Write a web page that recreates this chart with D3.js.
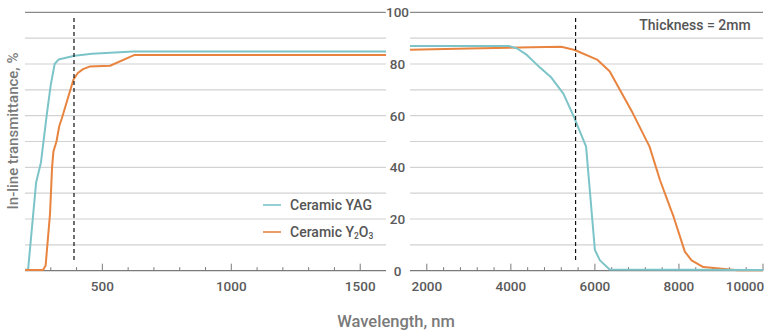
<!DOCTYPE html>
<html>
<head>
<meta charset="utf-8">
<script src="https://cdn.jsdelivr.net/npm/d3@7"></script>
<style>
  html, body { margin: 0; padding: 0; background: #fff; }
  svg { display: block; font-family: Roboto, "Liberation Sans", sans-serif; }
</style>
</head>
<body>
<svg id="chart" width="771" height="333"></svg>
<script>
// In-line transmittance of 2 mm ceramic windows, UV/VIS (left) and IR (right)
const yagLeftWl  = [200, 212, 243, 262, 284, 300, 315, 330, 392, 460, 620, 1600];
const yagLeftT   = [0.4, 0.4, 34, 42, 60, 72, 80, 81.7, 83.2, 84, 84.8, 84.8];
const y2o3LeftWl = [200, 270, 280, 297, 305, 310, 322, 333, 343, 388, 405, 425, 450, 530, 625, 1600];
const y2o3LeftT  = [0.3, 0.3, 2, 22, 40, 46, 50, 56, 59, 74, 76.5, 78, 79, 79.3, 83.5, 83.5];

const yagRightWl  = [1600, 3950, 4150, 4380, 4700, 4950, 5250, 5500, 5790, 6000, 6120, 6350, 10000];
const yagRightT   = [87, 87, 86, 83.5, 78.5, 75, 68.5, 59.5, 48, 8, 4, 0.5, 0.3];
const y2o3RightWl = [1600, 3000, 4500, 5200, 5520, 6050, 6350, 6900, 7300, 7550, 7800, 7870, 8140, 8300, 8580, 9150, 9400, 10000];
const y2o3RightT  = [85.5, 86, 86.5, 86.7, 85.4, 81.7, 77.2, 61, 48, 35, 24, 21, 7.4, 4, 1.4, 0.6, 0.2, 0.2];

const leftDomain  = [200, 1600];
const rightDomain = [1600, 10000];
const leftMajor   = [500, 1000, 1500];
const leftMinor   = d3.range(300, 1600, 100);
const rightMajor  = [2000, 4000, 6000, 8000, 10000];
const rightMinor  = d3.range(2000, 10001, 400);
const yTicks      = [0, 20, 40, 60, 80, 100];
const yGrid       = d3.range(10, 100, 10);
const cutLeft  = 390;   // dashed marker, left panel
const cutRight = 5540;  // dashed marker, right panel

const seriesNames = ["Ceramic YAG", "Ceramic Y2O3"];
const colors = { yag: "#7cc4c8", y2o3: "#e8843f" };

const svg = d3.select("#chart");
const y = d3.scaleLinear().domain([0, 100]).range([270.7, 12.3]);
const xL = d3.scaleLinear().domain(leftDomain).range([25, 386]);
const xR = d3.scaleLinear().domain(rightDomain).range([410, 763]);

const defs = svg.append("defs");
[["clipL", xL], ["clipR", xR]].forEach(([id, sc]) => {
  defs.append("clipPath").attr("id", id).append("rect")
    .attr("x", sc.range()[0]).attr("y", 0)
    .attr("width", sc.range()[1] - sc.range()[0]).attr("height", 333);
});

function panel(x, clipId, minor, major, series, cut) {
  const g = svg.append("g");
  const [x0, x1] = x.range();
  // light grid
  g.selectAll(".grid").data(yGrid).join("line")
    .attr("x1", x0).attr("x2", x1)
    .attr("y1", d => y(d)).attr("y2", d => y(d))
    .attr("stroke", "#d2d2d2").attr("stroke-width", 1.2);
  // top frame line
  g.append("line").attr("x1", x0).attr("x2", x1)
    .attr("y1", y(100)).attr("y2", y(100))
    .attr("stroke", "#8a8a8a").attr("stroke-width", 1.3);
  // baseline with inward ticks
  g.append("line").attr("x1", x0).attr("x2", x1)
    .attr("y1", y(0)).attr("y2", y(0))
    .attr("stroke", "#7a7a7a").attr("stroke-width", 1.3);
  g.selectAll(".tick").data(minor).join("line")
    .attr("x1", d => x(d)).attr("x2", d => x(d))
    .attr("y1", y(0)).attr("y2", d => y(0) - (major.includes(d) ? 7 : 3.5))
    .attr("stroke", "#7a7a7a").attr("stroke-width", 1);
  g.selectAll(".lab").data(major).join("text")
    .attr("x", d => Math.min(x(d), x1 - 18))
    .attr("y", y(0) + 20.5)
    .attr("text-anchor", "middle")
    .attr("font-size", 13.5).attr("font-weight", 500).attr("fill", "#5a5a5a")
    .text(d => d);
  // curves
  const line = d3.line().x(d => x(d[0])).y(d => y(d[1]));
  series.forEach(s => {
    g.append("path")
      .datum(d3.zip(s.wl, s.t))
      .attr("clip-path", `url(#${clipId})`)
      .attr("d", line)
      .attr("fill", "none")
      .attr("stroke", s.color).attr("stroke-width", 2)
      .attr("stroke-linejoin", "round");
  });
  // dashed cut-off marker
  g.append("line")
    .attr("x1", x(cut)).attr("x2", x(cut))
    .attr("y1", 18).attr("y2", 261)
    .attr("stroke", "#111").attr("stroke-width", 1.2)
    .attr("stroke-dasharray", "4,3");
}

panel(xL, "clipL", leftMinor, leftMajor, [
  { wl: yagLeftWl, t: yagLeftT, color: colors.yag },
  { wl: y2o3LeftWl, t: y2o3LeftT, color: colors.y2o3 }
], cutLeft);

panel(xR, "clipR", rightMinor, rightMajor, [
  { wl: y2o3RightWl, t: y2o3RightT, color: colors.y2o3 },
  { wl: yagRightWl, t: yagRightT, color: colors.yag }
], cutRight);

// shared y labels between the panels
svg.append("g").selectAll("text").data(yTicks).join("text")
  .attr("x", 397.5).attr("y", d => y(d))
  .attr("dy", "0.36em")
  .attr("text-anchor", "middle")
  .attr("font-size", 13.5).attr("font-weight", 500).attr("fill", "#5a5a5a")
  .attr("stroke", "#fff").attr("stroke-width", 3).attr("paint-order", "stroke")
  .text(d => d);

// axis titles
svg.append("text")
  .attr("x", 396).attr("y", 327)
  .attr("text-anchor", "middle")
  .attr("font-size", 16.5).attr("font-weight", 500).attr("fill", "#7a7a7a")
  .text("Wavelength, nm");

svg.append("text")
  .attr("transform", "translate(18,131) rotate(-90)")
  .attr("text-anchor", "middle")
  .attr("font-size", 15).attr("font-weight", 500).attr("fill", "#7a7a7a")
  .text("In-line transmittance, %");

// annotation
svg.append("text")
  .attr("x", 695).attr("y", 30)
  .attr("text-anchor", "middle")
  .attr("font-size", 14).attr("font-weight", 500).attr("fill", "#555")
  .text("Thickness = 2mm");

// legend
const legend = svg.append("g");
const legendRows = [
  { name: seriesNames[0], color: colors.yag, yy: 205 },
  { name: seriesNames[1], color: colors.y2o3, yy: 232 }
];
legendRows.forEach(r => {
  legend.append("line")
    .attr("x1", 263).attr("x2", 281).attr("y1", r.yy).attr("y2", r.yy)
    .attr("stroke", r.color).attr("stroke-width", 1.6);
  const t = legend.append("text")
    .attr("x", 290).attr("y", r.yy + 5)
    .attr("font-size", 14).attr("font-weight", 500).attr("fill", "#555");
  const m = r.name.match(/^(.*Y)2O3$/);
  if (m) {
    t.append("tspan").text(m[1]);
    t.append("tspan").attr("font-size", 8.5).attr("dy", 1.5).text("2");
    t.append("tspan").attr("dy", -1.5).text("O");
    t.append("tspan").attr("font-size", 8.5).attr("dy", 1.5).text("3");
  } else {
    t.text(r.name);
  }
});
</script>
</body>
</html>
